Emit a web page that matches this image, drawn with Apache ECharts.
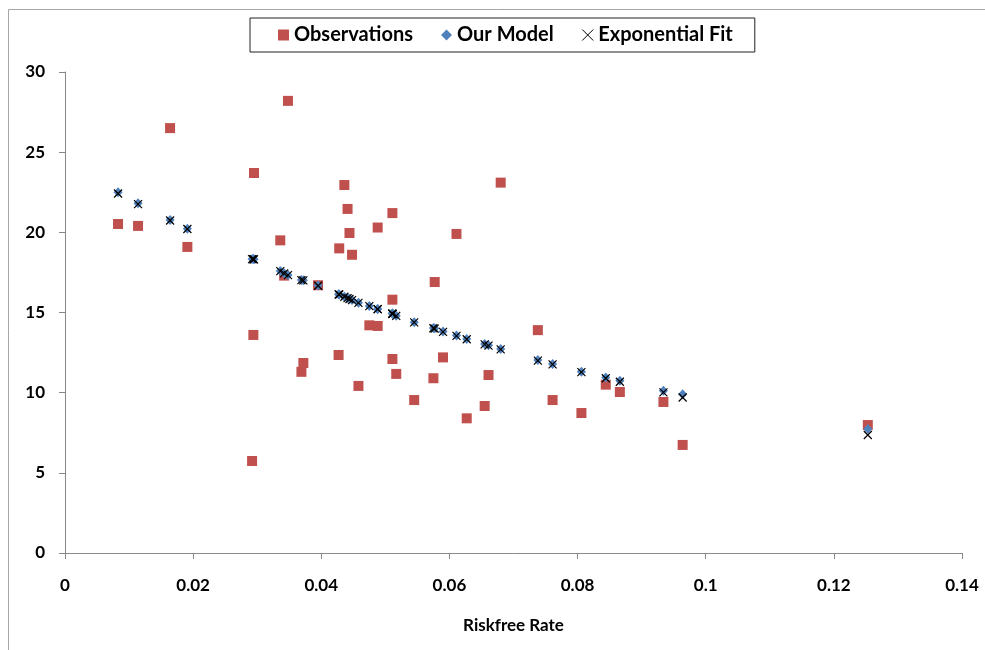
<!DOCTYPE html>
<html>
<head>
<meta charset="utf-8">
<script src="https://cdn.jsdelivr.net/npm/echarts@6/dist/echarts.min.js"></script>
<style>html,body{margin:0;padding:0;background:#fff}#c{width:985px;height:650px}</style>
</head>
<body>
<div id="c"></div>
<script>
const riskfreeRate = [0.00828,0.0114,0.0164,0.0191,0.0295,0.0294,0.0292,0.0336,0.0342,0.0348,0.0369,0.0372,0.0395,0.0427,0.0428,0.0436,0.0441,0.0444,0.0448,0.0458,0.0475,0.0488,0.0488,0.0511,0.0511,0.0511,0.0517,0.0545,0.0575,0.0577,0.059,0.0611,0.0627,0.0655,0.0661,0.068,0.0738,0.0761,0.0806,0.0844,0.0866,0.0934,0.0964,0.1253];
const observations = [20.52,20.4,26.5,19.09,23.7,13.6,5.74,19.5,17.3,28.2,11.3,11.85,16.7,12.35,19.0,22.95,21.46,19.96,18.6,10.42,14.2,14.16,20.3,21.2,15.8,12.1,11.17,9.54,10.9,16.9,12.2,19.9,8.4,9.17,11.1,23.1,13.9,9.54,8.73,10.5,10.04,9.42,6.74,7.98];
const ourModel = [22.5,21.82,20.77,20.23,18.32,18.33,18.34,17.59,17.45,17.34,17.03,17.01,16.68,16.14,16.13,15.99,15.91,15.85,15.78,15.61,15.41,15.22,15.22,14.93,14.93,14.93,14.8,14.39,14.04,14.01,13.81,13.56,13.35,13.04,12.96,12.73,12.04,11.79,11.31,10.95,10.75,10.12,9.9,7.74];
const exponentialFit = [22.42,21.76,20.74,20.21,18.31,18.32,18.33,17.58,17.44,17.33,17.02,17.0,16.67,16.13,16.12,15.98,15.9,15.84,15.77,15.6,15.4,15.21,15.21,14.92,14.92,14.92,14.79,14.38,14.02,13.99,13.79,13.54,13.33,13.01,12.93,12.7,12.0,11.76,11.28,10.9,10.68,10.02,9.7,7.36];
const xTicks = [0,0.02,0.04,0.06,0.08,0.1,0.12,0.14];
const yTicks = [0,5,10,15,20,25,30];

const pair = (ys) => riskfreeRate.map((x,i)=>[x, ys[i]]);
const FONT = 'Lato, "Open Sans", sans-serif';
const xPath = 'path://M0,0L10,10M10,0L0,10';

const chart = echarts.init(document.getElementById('c'), null, {renderer:'canvas'});
chart.setOption({
  backgroundColor:'#fff',
  animation:false,
  graphic:[
    {type:'line', shape:{x1:8.5,y1:9.5,x2:990,y2:9.5}, style:{stroke:'#a6a6a6',lineWidth:1}},
    {type:'line', shape:{x1:8.5,y1:9.5,x2:8.5,y2:660}, style:{stroke:'#a6a6a6',lineWidth:1}}
  ],
  legend:{
    top:18, left:250,
    itemGap:28, itemWidth:11, itemHeight:11,
    padding:[7,22,7,28],
    borderColor:'#222', borderWidth:1,
    textStyle:{fontFamily:FONT,fontWeight:'bold',fontSize:20,color:'#000'},
    data:[
      {name:'Observations', icon:'rect'},
      {name:'Our Model', icon:'diamond'},
      {name:'Exponential Fit', icon:xPath, itemStyle:{color:'transparent',borderColor:'#000',borderWidth:1}}
    ]
  },
  grid:{left:65, right:23, top:72, bottom:97, containLabel:false},
  xAxis:{
    type:'value', min:0, max:0.14, interval:0.02,
    name:'Riskfree Rate', nameLocation:'middle', nameGap:64,
    nameTextStyle:{fontFamily:FONT,fontWeight:'bold',fontSize:17,color:'#000'},
    axisLine:{show:true,lineStyle:{color:'#888'}},
    axisTick:{show:true,length:6,lineStyle:{color:'#888'}},
    splitLine:{show:false},
    axisLabel:{fontFamily:FONT,fontWeight:'bold',fontSize:17,color:'#000',margin:24,
      formatter:v=>{const t=xTicks.find(k=>Math.abs(k-v)<1e-9);return String(t!==undefined?t:v);}}
  },
  yAxis:{
    type:'value', min:0, max:30, interval:5,
    axisLine:{show:true,lineStyle:{color:'#888'}},
    axisTick:{show:true,length:6,lineStyle:{color:'#888'}},
    splitLine:{show:false},
    axisLabel:{fontFamily:FONT,fontWeight:'bold',fontSize:17,color:'#000',margin:20,
      formatter:v=>String(yTicks.find(k=>k===v)??v)}
  },
  series:[
    {name:'Observations', type:'scatter', data:pair(observations), symbol:'rect', symbolSize:10,
     itemStyle:{color:'#C0504D',opacity:1}, z:2},
    {name:'Our Model', type:'scatter', data:pair(ourModel), symbol:'diamond', symbolSize:[9,10],
     itemStyle:{color:'#4F81BD',opacity:1}, z:3},
    {name:'Exponential Fit', type:'scatter', data:pair(exponentialFit), symbol:xPath, symbolSize:8,
     itemStyle:{color:'transparent',borderColor:'#000',borderWidth:1.2,opacity:1}, z:4}
  ]
});
</script>
</body>
</html>
